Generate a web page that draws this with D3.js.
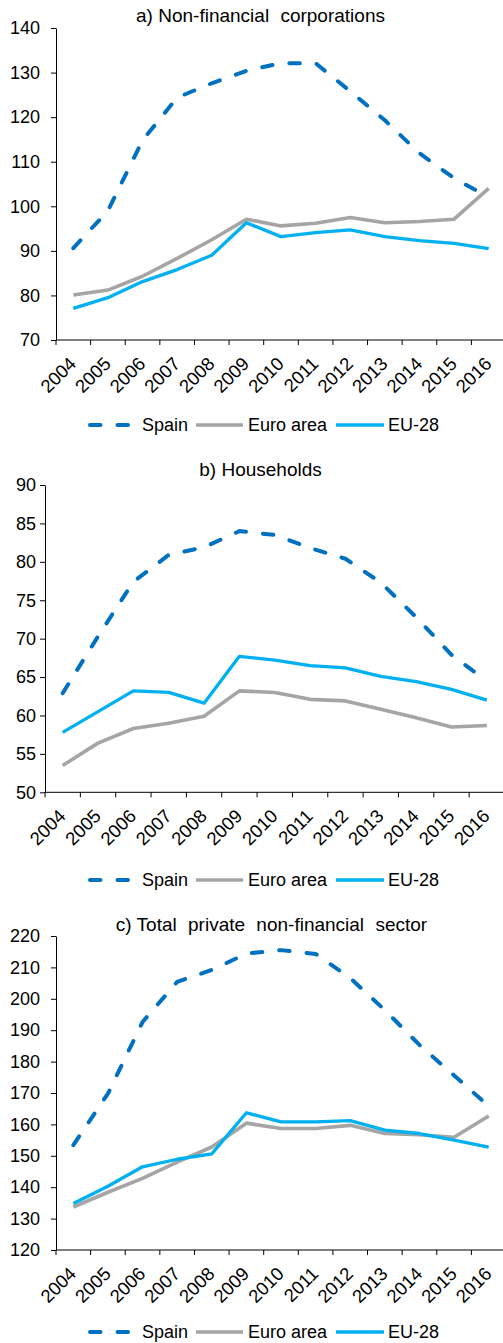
<!DOCTYPE html>
<html>
<head>
<meta charset="utf-8">
<script src="https://cdn.jsdelivr.net/npm/d3@7"></script>
<style>
  html, body { margin: 0; padding: 0; background: #fff; }
  svg { display: block; }
  text { font-family: "Liberation Sans", Arial, sans-serif; fill: #000; }
</style>
</head>
<body>
<svg id="chart" width="503" height="1343"></svg>
<script>
// Years on the horizontal axis
const years = ["2004","2005","2006","2007","2008","2009","2010","2011","2012","2013","2014","2015","2016"];

// a) Non-financial corporations
const nfcSpain = [90.6, 99.0, 114.8, 124.4, 127.6, 130.4, 132.1, 132.1, 125.8, 119.3, 111.9, 106.3, 102.0];
const nfcEuro  = [80.1, 81.2, 84.3, 88.3, 92.5, 97.1, 95.6, 96.2, 97.5, 96.3, 96.6, 97.1, 104.0];
const nfcEU28  = [77.1, 79.5, 83.1, 85.8, 89.0, 96.3, 93.2, 94.1, 94.7, 93.2, 92.3, 91.7, 90.5];
const nfcTicks = [70, 80, 90, 100, 110, 120, 130, 140];

// b) Households
const hhSpain = [62.9, 70.3, 77.4, 80.9, 81.9, 84.0, 83.5, 81.8, 80.4, 77.3, 72.8, 67.9, 64.5];
const hhEuro  = [53.5, 56.4, 58.3, 59.0, 59.9, 63.2, 63.0, 62.1, 61.9, 60.8, 59.7, 58.5, 58.7];
const hhEU28  = [57.8, 60.5, 63.2, 63.0, 61.6, 67.7, 67.2, 66.5, 66.2, 65.1, 64.4, 63.4, 62.0];
const hhTicks = [50, 55, 60, 65, 70, 75, 80, 85, 90];

// c) Total private non-financial sector
const totSpain = [153.4, 169.8, 192.6, 205.4, 209.2, 214.4, 215.5, 214.3, 206.6, 196.4, 185.3, 175.6, 165.8];
const totEuro  = [133.7, 138.4, 142.8, 148.0, 152.8, 160.4, 158.7, 158.7, 159.7, 157.1, 156.7, 155.9, 162.7];
const totEU28  = [134.8, 140.3, 146.5, 148.9, 150.6, 163.7, 160.8, 160.8, 161.2, 158.2, 157.1, 155.0, 152.8];
const totTicks = [120, 130, 140, 150, 160, 170, 180, 190, 200, 210, 220];

const seriesNames = ["Spain", "Euro area", "EU-28"];
const seriesColors = ["#0070C0", "#A5A5A5", "#00B0F0"];

// Title pieces; extra space is added between pieces (wide word gaps)
const panels = [
  { titleParts: ["a) Non-financial", " corporations"], titleGap: 6, titleX: 260.5, titleY: 21.5,
    left: 56, right: 506, top: 28, bottom: 340, domain: [70, 140], ticks: nfcTicks, pad: 11,
    legendY: 425, data: [nfcSpain, nfcEuro, nfcEU28] },
  { titleParts: ["b) Households"], titleGap: 0, titleX: 260.5, titleY: 476,
    left: 45, right: 504.5, top: 485, bottom: 792.3, domain: [50, 90], ticks: hhTicks, pad: 4,
    legendY: 880, data: [hhSpain, hhEuro, hhEU28] },
  { titleParts: ["c) Total", " private", " non-financial", " sector"], titleGap: 6, titleX: 271.5, titleY: 930.7,
    left: 56, right: 506, top: 936, bottom: 1250, domain: [120, 220], ticks: totTicks, pad: 11,
    legendY: 1332, data: [totSpain, totEuro, totEU28] }
];

const svg = d3.select("#chart");

const lineStyle = [
  { width: 4, dash: "10.5,17", cap: "round" },
  { width: 3.6, dash: null, cap: "butt" },
  { width: 3.3, dash: null, cap: "butt" }
];

panels.forEach(p => {
  const g = svg.append("g");

  const x = d3.scaleBand().domain(years).range([p.left, p.right]).padding(0);
  const y = d3.scaleLinear().domain(p.domain).range([p.bottom, p.top]);
  const cx = d => x(d) + x.bandwidth() / 2;

  // title
  const title = g.append("text")
    .attr("x", p.titleX)
    .attr("y", p.titleY)
    .attr("text-anchor", "middle")
    .attr("xml:space", "preserve")
    .style("white-space", "pre")
    .style("font-size", "19px");
  p.titleParts.forEach((w, i) => {
    title.append("tspan").attr("dx", i === 0 ? 0 : p.titleGap).text(w);
  });

  // series lines
  p.data.forEach((vals, i) => {
    const line = d3.line().x((d, j) => cx(years[j])).y(d => y(d));
    const st = lineStyle[i];
    g.append("path")
      .datum(vals)
      .attr("d", line)
      .attr("fill", "none")
      .attr("stroke", seriesColors[i])
      .attr("stroke-width", st.width)
      .attr("stroke-linecap", st.cap)
      .attr("stroke-linejoin", "round")
      .attr("stroke-dasharray", st.dash);
  });

  // y axis
  const yAxis = g.append("g")
    .attr("transform", `translate(${p.left},0)`)
    .call(d3.axisLeft(y).tickValues(p.ticks).tickSize(5).tickPadding(p.pad).tickSizeOuter(0));
  yAxis.select(".domain").attr("stroke", "#000");
  yAxis.selectAll(".tick line").attr("stroke", "#000");
  yAxis.selectAll(".tick text")
    .style("font-size", "18px")
    .style("font-family", "'Liberation Sans', Arial, sans-serif")
    .attr("fill", "#000");

  // x axis: baseline, ticks between categories, rotated year labels
  const xAxis = g.append("g").attr("transform", `translate(0,${p.bottom})`);
  xAxis.append("line")
    .attr("x1", p.left).attr("x2", p.right)
    .attr("stroke", "#000");
  const bounds = years.map(d => x(d)).concat([x.range()[1]]);
  xAxis.selectAll("line.tk").data(bounds).join("line")
    .attr("class", "tk")
    .attr("x1", d => d).attr("x2", d => d)
    .attr("y1", 0).attr("y2", 5)
    .attr("stroke", "#000");
  xAxis.selectAll("text").data(years).join("text")
    .attr("transform", d => `translate(${cx(d) + 4},25) rotate(-45)`)
    .attr("text-anchor", "end")
    .style("font-size", "18.5px")
    .text(d => d);

  // legend
  const legendItems = [
    { lx1: 88, lx2: 131, tx: 142 },
    { lx1: 196, lx2: 243, tx: 248 },
    { lx1: 336, lx2: 384, tx: 388 }
  ];
  const lg = g.append("g").attr("transform", `translate(0,${p.legendY})`);
  legendItems.forEach((it, i) => {
    const st = lineStyle[i];
    lg.append("line")
      .attr("x1", it.lx1 + (st.cap === "round" ? 2 : 0))
      .attr("x2", it.lx2)
      .attr("y1", 0).attr("y2", 0)
      .attr("stroke", seriesColors[i])
      .attr("stroke-width", st.width)
      .attr("stroke-linecap", st.cap)
      .attr("stroke-dasharray", st.dash);
    lg.append("text")
      .attr("x", it.tx).attr("y", 0)
      .attr("dy", "0.36em")
      .style("font-size", "18px")
      .text(seriesNames[i]);
  });
});
</script>
</body>
</html>
